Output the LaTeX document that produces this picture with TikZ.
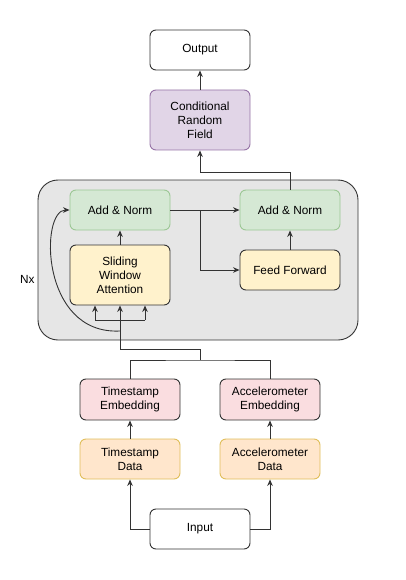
\documentclass[tikz,border=0pt]{standalone}
\usepackage{fontspec}
\setmainfont{Liberation Sans}
\usetikzlibrary{arrows.meta}
\definecolor{edge}{HTML}{333333}
\definecolor{purF}{HTML}{E1D5E7}\definecolor{purS}{HTML}{9673A6}
\definecolor{grnF}{HTML}{D5E8D4}\definecolor{grnS}{HTML}{9CC795}
\definecolor{yelF}{HTML}{FFF2CC}
\definecolor{pnkF}{HTML}{FADDE0}
\definecolor{orgF}{HTML}{FFE6CC}\definecolor{orgS}{HTML}{E0BE5A}
\definecolor{contF}{HTML}{E6E6E6}
\tikzset{
  box/.style={draw=edge, line width=0.9pt, rounded corners=6pt, minimum width=100pt, minimum height=40pt, align=center, font=\fontsize{11.8}{14}\selectfont, inner sep=2pt},
  conn/.style={draw=edge, line width=0.9pt},
  arr/.style={conn, -{Stealth[length=6.5pt,width=5.5pt]}}
}
\begin{document}
\begin{tikzpicture}[x=1pt,y=-1pt]
\useasboundingbox (0,0) rectangle (405,580);
% container
\draw[draw=edge, fill=contF, line width=0.9pt, rounded corners=20pt] (38,180) rectangle (358,340);
\node[font=\fontsize{11.8}{14}\selectfont, anchor=east] (nx) at (38,279) {Nx};
% nodes
\node[box, fill=white] (out) at (200,50) {Output};
\node[box, fill=purF, draw=purS, minimum height=60pt] (crf) at (200,120) {Conditional\\Random\\Field};
\node[box, fill=grnF, draw=grnS] (an1) at (120,210) {Add \& Norm};
\node[box, fill=grnF, draw=grnS] (an2) at (290,210) {Add \& Norm};
\node[box, fill=yelF, minimum height=60pt] (swa) at (120,275) {Sliding\\Window\\Attention};
\node[box, fill=yelF] (ff) at (290,270) {Feed Forward};
\node[box, fill=pnkF, minimum height=41pt] (te) at (130,399.5) {Timestamp\\Embedding};
\node[box, fill=pnkF, minimum height=41pt] (ae) at (270,399.5) {Accelerometer\\Embedding};
\node[box, fill=orgF, draw=orgS] (td) at (130,459) {Timestamp\\Data};
\node[box, fill=orgF, draw=orgS] (ad) at (270,459) {Accelerometer\\Data};
\node[box, fill=white] (in) at (200,529) {Input};
% coordinates
\coordinate (j1) at (200,360);
\coordinate (j2) at (120,349);
\coordinate (j4) at (120,331);
\coordinate (l1) at (95,320);
\coordinate (r1) at (145,320);
\coordinate (b1) at (200,210);
\coordinate (t1) at (200,172);
% bottom connectors
\draw[arr] (in.west) -| (td.south);
\draw[arr] (in.east) -| (ad.south);
\draw[arr] (td.north) -- (te.south);
\draw[arr] (ad.north) -- (ae.south);
\draw[conn] (te.north) |- (j1) -| (ae.north);
\draw[conn] (j1) |- (j2);
\draw[arr] (j2) -- (swa.south);
\draw[conn] (l1) -- (r1);
\draw[arr] (l1) -- (l1 |- swa.south);
\draw[arr] (r1) -- (r1 |- swa.south);
\draw[arr] (j4) .. controls (40,335) and (40,210) .. (an1.west);
% inner
\draw[arr] (swa.north) -- (an1.south);
\draw[arr] (an1.east) -- (an2.west);
\draw[arr] (b1) |- (ff.west);
\draw[arr] (ff.north) -- (an2.south);
% top
\draw[arr] (an2.north) |- (t1) -| (crf.south);
\draw[arr] (crf.north) -- (out.south);
\end{tikzpicture}
\end{document}
